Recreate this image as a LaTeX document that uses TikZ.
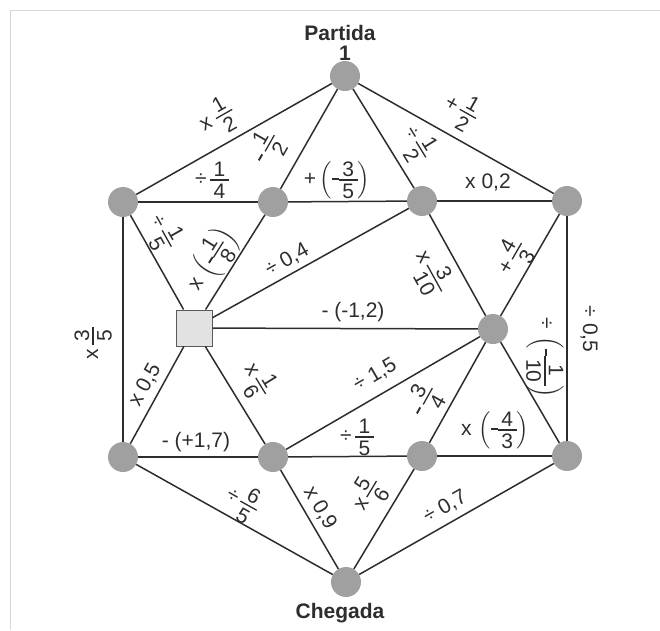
\documentclass[tikz,border=0pt]{standalone}
\usepackage{fontspec}
\setmainfont{Liberation Sans}
\usepackage{amsmath}
\definecolor{nodegray}{RGB}{160,160,160}
\definecolor{sqfill}{RGB}{226,226,226}
\definecolor{sqdraw}{RGB}{90,90,90}
\definecolor{linec}{RGB}{45,45,45}
\definecolor{txt}{RGB}{45,45,45}
\definecolor{framec}{RGB}{215,215,215}
\newcommand{\frm}[2]{\vcenter{\hbox{\vbox{\offinterlineskip\halign{\hskip3.5pt\hfil##\hfil\hskip3.5pt\cr
  \rule{0pt}{15pt}#1\cr
  \noalign{\kern3pt\hrule height 1.3pt\kern3pt}
  \rule{0pt}{15pt}#2\cr}}}}}
\newcommand{\fr}[2]{\ensuremath{\frm{#1}{#2}}}
\newcommand{\mn}{\rule[0.25em]{0.33em}{0.09em}}
\begin{document}
\begin{tikzpicture}[x=1pt,y=-1pt,
  dot/.style={circle, fill=nodegray, minimum size=30pt, inner sep=0pt},
  sq/.style={rectangle, fill=sqfill, draw=sqdraw, line width=1pt, minimum size=36pt, inner sep=0pt},
  edge/.style={draw=linec, line width=1.5pt},
  lab/.style={font=\fontsize{21}{23}\selectfont, text=txt, inner sep=0pt},
  ttl/.style={font=\bfseries\fontsize{21}{23}\selectfont, text=txt, inner sep=0pt}]
\useasboundingbox (0,0) rectangle (660,630);
\draw[framec, line width=1pt] (10,630) -- (10,10) -- (660,10);
% nodes
\node[dot] (T) at (345,76) {};
\node[dot] (UL) at (123,202) {};
\node[dot] (IUL) at (273,202) {};
\node[dot] (IUR) at (422,201) {};
\node[dot] (UR) at (567,201) {};
\node[sq] (SQ) at (194,328) {};
\node[dot] (MR) at (493,329) {};
\node[dot] (LL) at (123,457) {};
\node[dot] (ILL) at (273,457) {};
\node[dot] (ILR) at (422,456) {};
\node[dot] (LR) at (567,456) {};
\node[dot] (B) at (346,582) {};
% edges
\foreach \a/\b in {T/UL,T/IUL,T/IUR,T/UR,UL/IUL,IUL/IUR,IUR/UR,UL/SQ,IUL/SQ,SQ/IUR,SQ/MR,IUR/MR,UR/MR,UR/LR,UL/LL,SQ/LL,SQ/ILL,MR/ILL,MR/ILR,MR/LR,LL/ILL,ILL/ILR,ILR/LR,LL/B,ILL/B,ILR/B,LR/B}
  \draw[edge] (\a) -- (\b);
% titles
\node[ttl] (partida) at (340,33) {Partida};
\node[ttl] (one) at (345,53) {1};
\node[ttl] (chegada) at (340,613) {Chegada};
% labels
\node[lab, rotate=29.6] (l1) at (217,118) {x \fr{1}{2}};
\node[lab, rotate=60.3] (l2) at (267,148) {\mn\hspace{4pt}\fr{1}{2}};
\node[lab, rotate=-58.4] (l3) at (417,143) {÷\,\fr{1}{2}};
\node[lab, rotate=-29.4] (l4) at (461,110) {+\,\fr{1}{2}};
\node[lab] (l5) at (212,180) {÷\,\fr{1}{4}};
\node[lab] (l6) at (337,180) {\ensuremath{\text{+}\left(\text{\mn}\frm{3}{5}\right)}};
\node[lab] (l7) at (488,183) {x 0,2};
\node[lab, rotate=-60.6] (l8) at (163,232) {÷\,\fr{1}{5}};
\node[lab, rotate=57.9] (l9) at (212,260) {\ensuremath{\text{x\,}\left(\text{\mn}\frm{1}{8}\right)}};
\node[lab, rotate=29.1] (l10) at (287,260) {÷ 0,4};
\node[lab] (l11) at (353,312) {- (-1,2)};
\node[lab, rotate=-61] (l12) at (431,272) {x\,\fr{3}{10}};
\node[lab, rotate=60] (l13) at (513,258) {+\,\fr{4}{3}};
\node[lab, rotate=-90] (l14) at (589,329) {÷ 0,5};
\node[lab, rotate=90] (l15) at (93,343) {x\,\fr{3}{5}};
\node[lab, rotate=61.2] (l16) at (145,385) {x 0,5};
\node[lab, rotate=-58.5] (l17) at (257,380) {x\,\fr{1}{6}};
\node[lab, rotate=30.2] (l18) at (375,375) {÷ 1,5};
\node[lab] (l19) at (357,437) {÷\,\fr{1}{5}};
\node[lab, rotate=60.8] (l20) at (425,401) {\mn\hspace{4pt}\fr{3}{4}};
\node[lab, rotate=-90] (l21) at (545,358) {\ensuremath{\text{÷\,}\left(\text{\mn}\frm{1}{10}\right)}};
\node[lab] (l22) at (495,430) {\ensuremath{\text{x\,}\left(\text{\mn}\frm{4}{3}\right)}};
\node[lab] (l23) at (196,442) {- (+1,7)};
\node[lab, rotate=-29.3] (l24) at (242,502) {÷\,\fr{6}{5}};
\node[lab, rotate=-59.7] (l25) at (320,508) {x 0,9};
\node[lab, rotate=58.7] (l26) at (368,495) {x\,\fr{5}{6}};
\node[lab, rotate=29.7] (l27) at (445,507) {÷ 0,7};
\end{tikzpicture}
\end{document}
